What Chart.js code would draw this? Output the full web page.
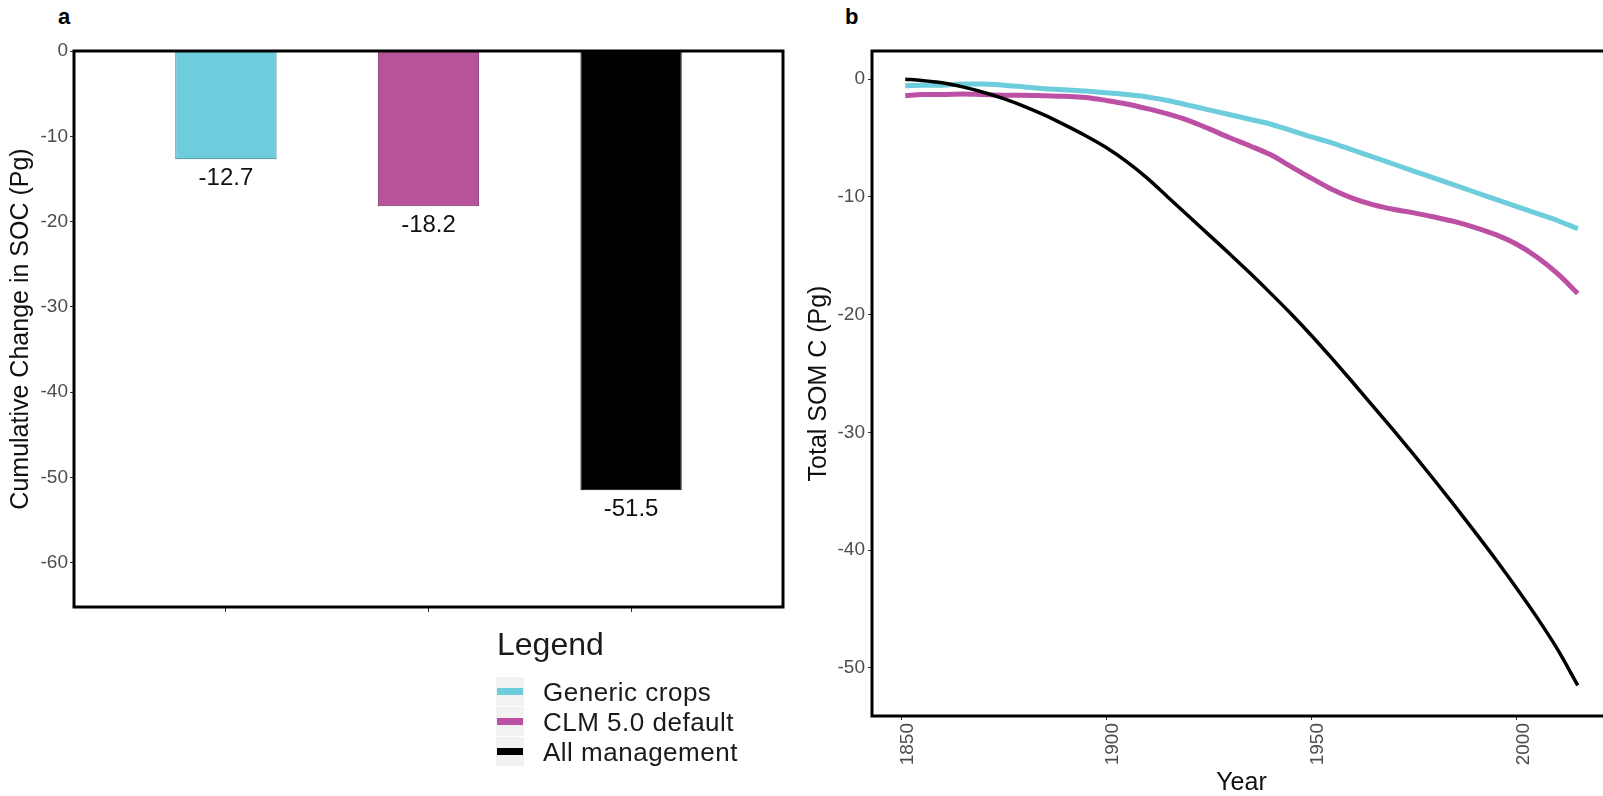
<!DOCTYPE html>
<html>
<head>
<meta charset="utf-8">
<script src="https://cdn.jsdelivr.net/npm/chart.js@4.4.0/dist/chart.umd.min.js"></script>
<style>
  body { margin: 0; background: #fff; overflow: hidden; width: 1603px; height: 796px; position: relative;
         font-family: "Liberation Sans", Arial, sans-serif; color: #1a1a1a; }
  canvas { position: absolute; top: 0; }
  #ca { left: 0; }
  #cb { left: 780px; }
  .tag { position: absolute; font-weight: bold; font-size: 22px; line-height: 1; color: #000; }
  #legend-title { position: absolute; left: 497px; top: 628px; font-size: 32px; line-height: 1; }
  .key { position: absolute; left: 496px; width: 28px; height: 29px; background: #f2f2f2; }
  .key span { position: absolute; left: 1px; top: 11px; width: 26px; height: 7px; }
  .ltext { position: absolute; left: 543px; height: 30px; line-height: 30px; font-size: 26px; letter-spacing: 0.5px; white-space: nowrap; }
</style>
</head>
<body>
<div class="tag" style="left:58px;top:6px">a</div>
<div class="tag" style="left:845px;top:6px">b</div>
<canvas id="ca" width="800" height="640"></canvas>
<canvas id="cb" width="850" height="796"></canvas>
<div id="legend-title">Legend</div>
<div id="legend"></div>
<script>
// panel a
var scenarios = ['Generic crops', 'CLM 5.0 default', 'All management'];
var scenarioColors = ['#6ECDDC', '#B8529B', '#000000'];
var scenarioBorders = ['#2E6F7A', '#7D2F68', '#000000'];
var cumulativeChange = [-12.7, -18.2, -51.5];
var barTicks = [0, -10, -20, -30, -40, -50, -60];

// panel b
var years = [1851, 1855, 1860, 1865, 1870, 1875, 1880, 1885, 1890, 1895,
             1900, 1905, 1910, 1915, 1920, 1925, 1930, 1935, 1940, 1945,
             1950, 1955, 1960, 1965, 1970, 1975, 1980, 1985, 1990, 1995,
             2000, 2005, 2010, 2015];
var genericCrops = [-0.55, -0.5, -0.5, -0.4, -0.4, -0.5, -0.65, -0.8, -0.9, -1.0,
                    -1.15, -1.3, -1.5, -1.8, -2.2, -2.6, -3.0, -3.4, -3.8, -4.35,
                    -4.9, -5.4, -6.0, -6.6, -7.2, -7.8, -8.4, -9.0, -9.6, -10.2,
                    -10.8, -11.4, -12.0, -12.7];
var clmDefault = [-1.4, -1.3, -1.3, -1.25, -1.3, -1.35, -1.35, -1.4, -1.45, -1.55,
                  -1.8, -2.1, -2.5, -2.95, -3.5, -4.2, -4.95, -5.65, -6.4, -7.4,
                  -8.4, -9.35, -10.1, -10.65, -11.05, -11.35, -11.7, -12.1, -12.6, -13.2,
                  -14.0, -15.1, -16.5, -18.2];
var allManagement = [0, -0.1, -0.3, -0.65, -1.1, -1.65, -2.3, -3.05, -3.9, -4.8,
                     -5.8, -7.0, -8.4, -10.0, -11.6, -13.2, -14.8, -16.45, -18.15, -19.9,
                     -21.75, -23.7, -25.7, -27.75, -29.8, -31.9, -34.05, -36.25, -38.5, -40.8,
                     -43.2, -45.7, -48.4, -51.5];
var yearTicks = [1850, 1900, 1950, 2000];
var somTicks = [0, -10, -20, -30, -40, -50];

var FONT = '"Liberation Sans", Arial, sans-serif';
var tickFont = { family: FONT, size: 19 };
var titleFont = { family: FONT, size: 25 };

// black frame around the plot area
var boxPlugin = {
  id: 'box',
  afterDraw: function(chart) {
    var a = chart.chartArea, ctx = chart.ctx;
    ctx.save();
    ctx.strokeStyle = '#000';
    ctx.lineWidth = 3;
    ctx.strokeRect(a.left, a.top, a.right - a.left, a.bottom - a.top);
    ctx.restore();
  }
};

// value labels under the bars
var barLabels = {
  id: 'barLabels',
  afterDatasetsDraw: function(chart) {
    var ctx = chart.ctx, meta = chart.getDatasetMeta(0);
    ctx.save();
    ctx.font = '24px ' + FONT;
    ctx.fillStyle = '#111';
    ctx.textAlign = 'center';
    ctx.textBaseline = 'alphabetic';
    meta.data.forEach(function(bar, i) {
      ctx.fillText(cumulativeChange[i].toFixed(1), bar.x, bar.y + 26);
    });
    ctx.restore();
  }
};

function fixedTicks(list) {
  return function(scale) {
    scale.ticks = list.map(function(v) { return { value: v }; });
  };
}

new Chart(document.getElementById('ca'), {
  type: 'bar',
  data: {
    datasets: [{
      label: 'Cumulative change',
      data: cumulativeChange.map(function(v, i) { return { x: i + 1, y: v }; }),
      backgroundColor: scenarioColors,
      borderColor: scenarioBorders,
      borderWidth: 1,
      barPercentage: 0.5,
      categoryPercentage: 1
    }]
  },
  options: {
    responsive: false,
    animation: false,
    layout: { padding: { top: 51, right: 17, left: 0, bottom: 0 } },
    plugins: { legend: { display: false }, tooltip: { enabled: false } },
    scales: {
      x: {
        type: 'linear', min: 0.25, max: 3.75, offset: false,
        afterBuildTicks: fixedTicks([1, 2, 3]),
        afterFit: function(s) { s.height = 33; },
        grid: { drawOnChartArea: false, offset: false, tickLength: 5, color: '#333' },
        border: { display: false },
        ticks: { callback: function() { return ''; } }
      },
      y: {
        min: -65.2, max: 0,
        afterBuildTicks: fixedTicks(barTicks),
        afterFit: function(s) { s.width = 74; },
        grid: { drawOnChartArea: false, tickLength: 4, color: '#333' },
        border: { display: false },
        ticks: { color: '#4d4d4d', font: tickFont, padding: 2 },
        title: { display: true, text: 'Cumulative Change in SOC (Pg)', color: '#111',
                 font: titleFont, padding: { top: 6, bottom: 0 } }
      }
    }
  },
  plugins: [boxPlugin, barLabels]
});

function pairs(vals) {
  return years.map(function(y, i) { return { x: y, y: vals[i] }; });
}

new Chart(document.getElementById('cb'), {
  type: 'line',
  data: {
    datasets: [
      { label: scenarios[0], data: pairs(genericCrops), borderColor: scenarioColors[0],
        borderWidth: 5, pointRadius: 0, cubicInterpolationMode: 'monotone', order: 2 },
      { label: scenarios[1], data: pairs(clmDefault), borderColor: '#BC50A4',
        borderWidth: 5, pointRadius: 0, cubicInterpolationMode: 'monotone', order: 1 },
      { label: scenarios[2], data: pairs(allManagement), borderColor: '#000',
        borderWidth: 3.5, pointRadius: 0, cubicInterpolationMode: 'monotone', order: 0 }
    ]
  },
  options: {
    responsive: false,
    animation: false,
    layout: { padding: { top: 51, right: 19, left: 0, bottom: 0 } },
    plugins: { legend: { display: false }, tooltip: { enabled: false } },
    scales: {
      x: {
        type: 'linear', min: 1842.9, max: 2023.1,
        afterBuildTicks: fixedTicks(yearTicks),
        afterFit: function(s) { s.height = 80; },
        grid: { drawOnChartArea: false, tickLength: 4, color: '#333' },
        border: { display: false },
        ticks: { color: '#4d4d4d', font: tickFont, minRotation: 90, maxRotation: 90,
                 labelOffset: 7, padding: 3, callback: function(v) { return String(v); } },
        title: { display: true, text: 'Year', color: '#111', font: titleFont,
                 padding: { top: 0, bottom: -2 } }
      },
      y: {
        min: -54.1, max: 2.4,
        afterBuildTicks: fixedTicks(somTicks),
        afterFit: function(s) { s.width = 92; },
        grid: { drawOnChartArea: false, tickLength: 4, color: '#333' },
        border: { display: false },
        ticks: { color: '#4d4d4d', font: tickFont, padding: 3 },
        title: { display: true, text: 'Total SOM C (Pg)', color: '#111', font: titleFont,
                 padding: { top: 24, bottom: 0 } }
      }
    }
  },
  plugins: [boxPlugin]
});

// legend below panel a
var legend = document.getElementById('legend');
scenarios.forEach(function(name, i) {
  var top = 677 + i * 30;
  var key = document.createElement('div');
  key.className = 'key';
  key.style.top = top + 'px';
  var line = document.createElement('span');
  line.style.background = i === 1 ? '#BC50A4' : scenarioColors[i];
  key.appendChild(line);
  legend.appendChild(key);
  var txt = document.createElement('div');
  txt.className = 'ltext';
  txt.style.top = top + 'px';
  txt.textContent = name;
  legend.appendChild(txt);
});
</script>
</body>
</html>
